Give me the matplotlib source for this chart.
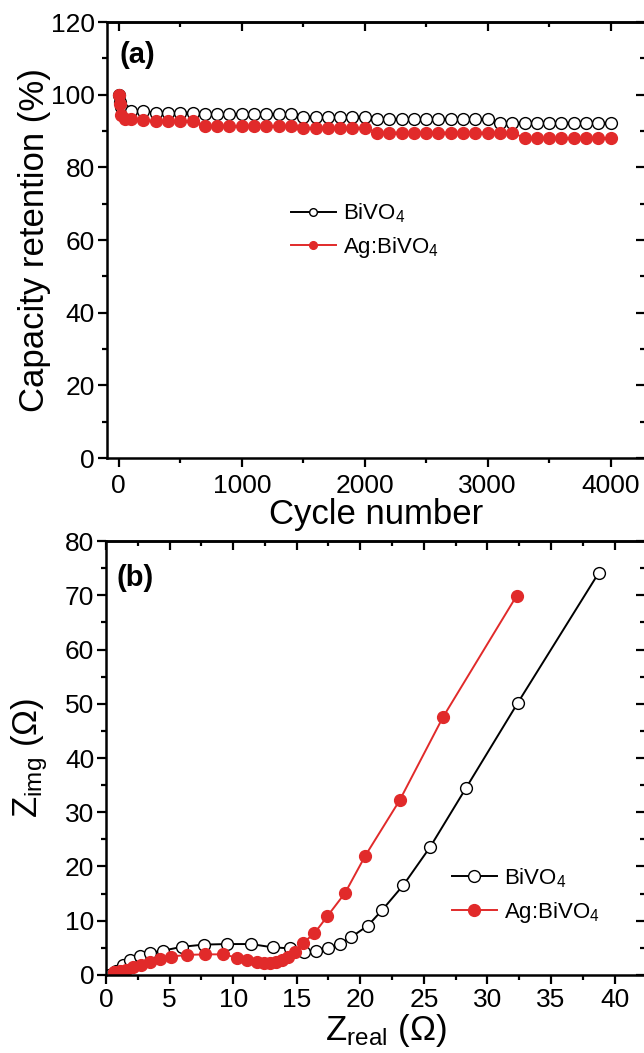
import numpy as np
import matplotlib
matplotlib.use('Agg')
import matplotlib.pyplot as plt
from matplotlib.ticker import MultipleLocator

plt.rcParams['font.family'] = ['Liberation Sans', 'DejaVu Sans']
plt.rcParams['mathtext.default'] = 'regular'

# (a) capacity retention vs cycle number
cycles = [0, 10, 20, 50] + list(range(100, 4001, 100))
ret_bivo4 = [100.0, 98.0, 96.5, 95.6,
             95.6, 95.4, 95.1, 95.1, 95.1, 95.1,
             94.6, 94.6, 94.6, 94.6, 94.6, 94.6, 94.6, 94.6,
             94.0, 94.0, 94.0, 94.0, 94.0, 94.0,
             93.2, 93.2, 93.2, 93.2, 93.2, 93.2, 93.2, 93.2, 93.2, 93.2,
             92.3, 92.3, 92.3, 92.3, 92.3, 92.3, 92.3, 92.3, 92.3, 92.3]
ret_ag = [100.0, 97.5, 94.3, 93.3,
          93.3, 93.1, 92.7, 92.7, 92.7, 92.7,
          91.4, 91.4, 91.4, 91.4, 91.4, 91.4, 91.4, 91.4,
          90.9, 90.9, 90.9, 90.9, 90.9, 90.9,
          89.6, 89.6, 89.6, 89.6, 89.6, 89.6, 89.6, 89.6, 89.6, 89.6, 89.6, 89.6,
          88.1, 88.1, 88.1, 88.1, 88.1, 88.1, 88.1, 88.1]

# (b) Nyquist plots
zre_bivo4 = [0.23, 0.8, 1.3, 1.9, 2.7, 3.5, 4.5, 6.0, 7.7, 9.5, 11.4, 13.1, 14.5,
             15.6, 16.5, 17.5, 18.4, 19.3, 20.6, 21.7, 23.4, 25.5, 28.3, 32.4, 38.75]
zim_bivo4 = [0.0, 0.8, 1.8, 2.7, 3.5, 4.1, 4.5, 5.2, 5.6, 5.7, 5.7, 5.1, 4.9,
             4.3, 4.5, 4.9, 5.7, 7.0, 9.1, 11.9, 16.6, 23.6, 34.4, 50.2, 74.1]
zre_ag = [0.64, 1.13, 1.61, 2.09, 2.74, 3.45, 4.28, 5.1, 6.4, 7.8, 9.2, 10.3, 11.1,
          11.9, 12.4, 12.9, 13.4, 13.85, 14.3, 14.9, 15.5, 16.4, 17.4, 18.8, 20.4,
          23.1, 26.5, 32.3]
zim_ag = [0.5, 0.7, 1.0, 1.4, 1.9, 2.4, 3.0, 3.4, 3.7, 3.8, 3.8, 3.2, 2.8,
          2.4, 2.2, 2.2, 2.4, 2.8, 3.4, 4.3, 5.9, 7.7, 10.8, 15.1, 22.0,
          32.2, 47.5, 69.9]

red = '#e12a2a'


def style_axes(ax, xmaj, xmin, ymaj, ymin, xpad=3):
    for s in ax.spines.values():
        s.set_linewidth(1.8)
    ax.xaxis.set_major_locator(MultipleLocator(xmaj))
    ax.xaxis.set_minor_locator(MultipleLocator(xmin))
    ax.yaxis.set_major_locator(MultipleLocator(ymaj))
    ax.yaxis.set_minor_locator(MultipleLocator(ymin))
    ax.tick_params(which='major', direction='out', length=6.5, width=1.6, labelsize=19)
    ax.tick_params(which='minor', direction='out', length=3.5, width=1.6)
    ax.tick_params(axis='x', pad=xpad)
    ax.tick_params(axis='y', pad=2)
    top = ax.secondary_xaxis('top')
    top.xaxis.set_major_locator(MultipleLocator(xmaj))
    top.xaxis.set_minor_locator(MultipleLocator(xmin))
    top.tick_params(which='major', direction='in', length=6.5, width=1.6, labeltop=False)
    top.tick_params(which='minor', direction='in', length=3.5, width=1.6)
    top.spines['top'].set_linewidth(1.8)
    right = ax.secondary_yaxis('right')
    right.yaxis.set_major_locator(MultipleLocator(ymaj))
    right.yaxis.set_minor_locator(MultipleLocator(ymin))
    right.tick_params(which='major', direction='in', length=6.5, width=1.6, labelright=False)
    right.tick_params(which='minor', direction='in', length=3.5, width=1.6)
    right.spines['right'].set_linewidth(1.8)


fig = plt.figure(figsize=(6.44, 10.53), dpi=100)

# panel (a)
ax1 = fig.add_axes([0.1654, 0.565, 0.8362, 0.414])
ax1.plot(cycles, ret_bivo4, '-o', color='black', lw=1.4, ms=8.5,
         mfc='white', mec='black', mew=1.0, label='BiVO$_4$')
ax1.plot(cycles, ret_ag, '-o', color=red, lw=1.4, ms=8.5,
         mfc=red, mec=red, label='Ag:BiVO$_4$')
ax1.set_xlim(-100, 4280)
ax1.set_ylim(0, 120)
style_axes(ax1, 1000, 500, 20, 10, xpad=5)
ax1.set_xlabel('Cycle number', fontsize=25)
ax1.set_ylabel('Capacity retention (%)', fontsize=25)
ax1.xaxis.set_label_coords(0.5, -0.092)
ax1.yaxis.set_label_coords(-0.103, 0.5)
ax1.text(0.025, 0.924, '(a)', transform=ax1.transAxes, fontsize=21,
         fontweight='bold', va='center', ha='left')
ax1.legend(loc='center left', bbox_to_anchor=(0.343, 0.521), frameon=False,
           fontsize=16, handlelength=2.0, handletextpad=0.35, labelspacing=0.45,
           borderpad=0, borderaxespad=0, markerscale=0.65)

# panel (b)
ax2 = fig.add_axes([0.1646, 0.0741, 0.837, 0.4121])
ax2.plot(zre_bivo4, zim_bivo4, '-o', color='black', lw=1.4, ms=8.5,
         mfc='white', mec='black', mew=1.0, label='BiVO$_4$')
ax2.plot(zre_ag, zim_ag, '-o', color=red, lw=1.4, ms=8.5,
         mfc=red, mec=red, label='Ag:BiVO$_4$')
ax2.set_xlim(0, 42.4)
ax2.set_ylim(0, 80)
style_axes(ax2, 5, 2.5, 10, 5)
ax2.set_xlabel('Z$_{real}$ (\u03a9)', fontsize=25)
ax2.set_ylabel('Z$_{img}$ (\u03a9)', fontsize=25)
ax2.xaxis.set_label_coords(0.52, -0.085)
ax2.yaxis.set_label_coords(-0.103, 0.5)
ax2.text(0.02, 0.915, '(b)', transform=ax2.transAxes, fontsize=21,
         fontweight='bold', va='center', ha='left')
ax2.legend(loc='center left', bbox_to_anchor=(0.642, 0.183), frameon=False,
           fontsize=16, handlelength=2.0, handletextpad=0.35, labelspacing=0.45,
           borderpad=0, borderaxespad=0)

fig.savefig('out.png', dpi=100)
